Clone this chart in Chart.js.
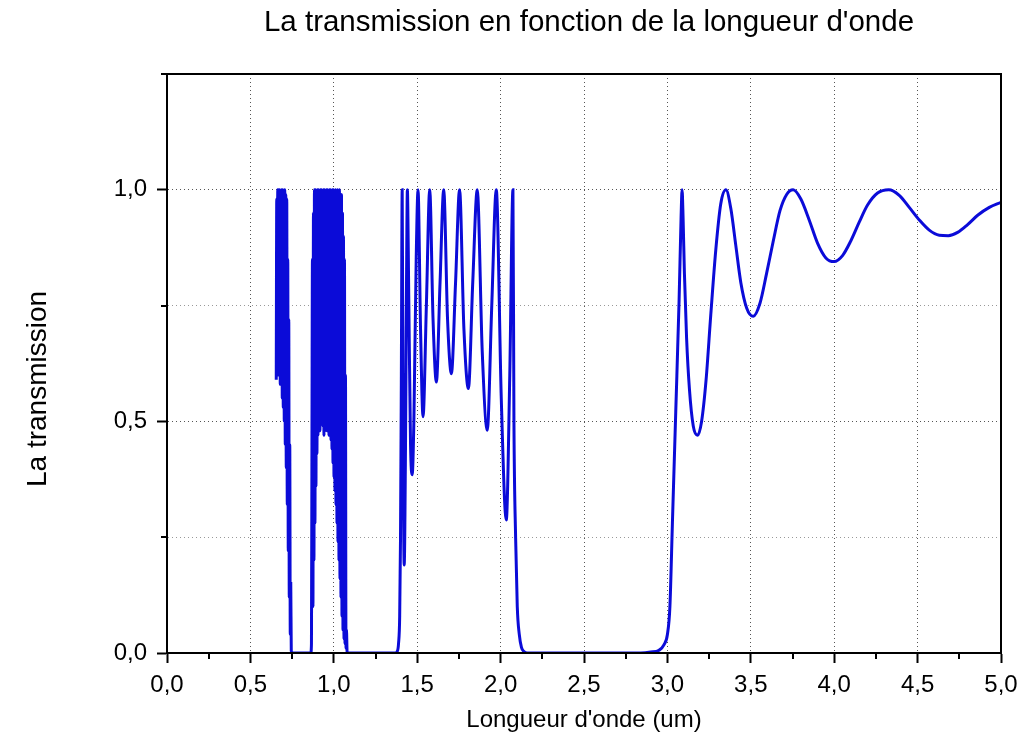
<!DOCTYPE html>
<html>
<head>
<meta charset="utf-8">
<title>La transmission en fonction de la longueur d'onde</title>
<script src="https://cdn.jsdelivr.net/npm/chart.js@4/dist/chart.umd.min.js"></script>
<style>
  html, body { margin: 0; padding: 0; background: #fff; }
  #wrap { width: 1021px; height: 740px; }
</style>
</head>
<body>
<div id="wrap"><canvas id="chart" width="1021" height="740"></canvas></div>
<script>
const chartTitle = "La transmission en fonction de la longueur d'onde";
const xTitle = "Longueur d'onde (um)";
const yTitle = "La transmission";

// first band, very fast oscillations
const band1X = [0.655, 0.658, 0.661, 0.664, 0.667, 0.670, 0.673, 0.676, 0.679, 0.682,
  0.685, 0.688, 0.691, 0.694, 0.697, 0.700, 0.703, 0.706, 0.709, 0.712,
  0.715, 0.718, 0.721, 0.724, 0.727, 0.730, 0.733, 0.736, 0.739, 0.742,
  0.745, 0.750];
const band1Y = [0.59, 0.98, 0.62, 1.0, 0.60, 1.0, 0.62, 1.0, 0.58, 0.99,
  0.60, 1.0, 0.55, 1.0, 0.53, 0.99, 0.50, 1.0, 0.45, 0.99,
  0.40, 0.98, 0.32, 0.85, 0.22, 0.72, 0.12, 0.45, 0.04, 0.15,
  0.005, 0];

// second band
const band2X = [0.862, 0.866, 0.869, 0.872, 0.875, 0.878, 0.881, 0.884, 0.887, 0.890,
  0.893, 0.896, 0.899, 0.902, 0.905, 0.908, 0.911, 0.914, 0.917, 0.920,
  0.923, 0.926, 0.929, 0.932, 0.935, 0.938, 0.941, 0.944, 0.947, 0.950,
  0.953, 0.956, 0.959, 0.962, 0.965, 0.968, 0.971, 0.974, 0.977, 0.980,
  0.983, 0.986, 0.989, 0.992, 0.995, 0.998, 1.001, 1.004, 1.007, 1.010,
  1.013, 1.016, 1.019, 1.022, 1.025, 1.028, 1.031, 1.034, 1.037, 1.040,
  1.043, 1.046, 1.049, 1.052, 1.055, 1.058, 1.061, 1.064, 1.067, 1.070,
  1.073, 1.076, 1.080];
const band2Y = [0, 0.02, 0.45, 0.85, 0.10, 0.95, 0.20, 1.0, 0.28, 1.0,
  0.36, 0.99, 0.43, 1.0, 0.47, 1.0, 0.50, 0.99, 0.48, 1.0,
  0.52, 1.0, 0.50, 0.99, 0.49, 1.0, 0.47, 1.0, 0.48, 0.99,
  0.50, 1.0, 0.48, 1.0, 0.50, 0.99, 0.47, 1.0, 0.48, 1.0,
  0.46, 0.99, 0.44, 1.0, 0.41, 1.0, 0.38, 0.99, 0.35, 1.0,
  0.32, 0.99, 0.28, 1.0, 0.24, 0.98, 0.20, 1.0, 0.16, 0.97,
  0.12, 0.99, 0.08, 0.95, 0.05, 0.90, 0.03, 0.85, 0.02, 0.60,
  0.01, 0.05, 0];

// third band, resolved fringes
const band3X = [1.370, 1.380, 1.388, 1.395, 1.400, 1.405, 1.410, 1.416, 1.422, 1.430,
  1.436, 1.441, 1.450, 1.460, 1.470, 1.480, 1.494, 1.505, 1.520, 1.535,
  1.555, 1.575, 1.595, 1.615, 1.637, 1.659, 1.682, 1.705, 1.730, 1.754,
  1.780, 1.807, 1.833, 1.860, 1.890, 1.920, 1.947, 1.974, 2.004, 2.034,
  2.055, 2.074, 2.080, 2.090, 2.100, 2.112, 2.125, 2.140, 2.160];
const band3Y = [0, 0.003, 0.02, 0.08, 0.25, 0.60, 1.0, 0.45, 0.19, 0.45,
  0.80, 1.0, 0.75, 0.45, 0.385, 0.50, 0.85, 1.0, 0.70, 0.51,
  0.75, 1.0, 0.72, 0.585, 0.80, 1.0, 0.72, 0.603, 0.80, 1.0,
  0.70, 0.571, 0.80, 1.0, 0.65, 0.481, 0.75, 1.0, 0.55, 0.287,
  0.60, 1.0, 0.50, 0.25, 0.10, 0.04, 0.012, 0.003, 0];

// long wavelength side
const band4X = [2.840, 2.900, 2.950, 2.980, 3.000, 3.015, 3.030, 3.050, 3.070, 3.082,
  3.088, 3.094, 3.102, 3.115, 3.132, 3.155, 3.181, 3.205, 3.232, 3.260,
  3.290, 3.320, 3.351, 3.380, 3.410, 3.440, 3.475, 3.515, 3.555, 3.595,
  3.635, 3.675, 3.715, 3.754, 3.800, 3.850, 3.900, 3.950, 4.000, 4.050,
  4.100, 4.150, 4.200, 4.260, 4.327, 4.390, 4.450, 4.510, 4.570, 4.630,
  4.684, 4.740, 4.800, 4.860, 4.930, 5.000];
const band4Y = [0, 0.002, 0.006, 0.018, 0.04, 0.10, 0.28, 0.52, 0.76, 0.94,
  1.0, 0.94, 0.82, 0.68, 0.57, 0.49, 0.47, 0.50, 0.59, 0.73,
  0.87, 0.97, 1.0, 0.96, 0.88, 0.80, 0.745, 0.727, 0.755, 0.82,
  0.89, 0.955, 0.99, 1.0, 0.98, 0.935, 0.885, 0.853, 0.845, 0.858,
  0.89, 0.93, 0.967, 0.993, 1.0, 0.988, 0.962, 0.935, 0.913, 0.902,
  0.901, 0.908, 0.925, 0.945, 0.962, 0.973];

const minorX = [0.25, 0.75, 1.25, 1.75, 2.25, 2.75, 3.25, 3.75, 4.25, 4.75];
const minorY = [0.25, 0.75, 1.25];

const wavelength = [].concat(band1X, band2X, band3X, band4X);
const transmission = [].concat(band1Y, band2Y, band3Y, band4Y);
const points = wavelength.map((x, i) => ({ x: x, y: transmission[i] }));

const fontFamily = "'Liberation Sans', Arial, sans-serif";
Chart.defaults.font.family = fontFamily;
Chart.defaults.color = "#000";

const isMajor = (v) => Math.abs(v * 2 - Math.round(v * 2)) < 1e-9;
const fmt = (v) => Number(v).toFixed(1).replace(".", ",");

// box around the plot, short minor ticks, title and y title
const framePlugin = {
  id: "frame",
  afterDraw(chart) {
    const { ctx, chartArea: a, scales } = chart;
    ctx.save();
    ctx.strokeStyle = "#000";
    ctx.lineWidth = 2;
    ctx.strokeRect(a.left, a.top, a.right - a.left, a.bottom - a.top);

    ctx.beginPath();
    minorX.forEach((v) => {
      const px = Math.round(scales.x.getPixelForValue(v));
      ctx.moveTo(px, a.bottom);
      ctx.lineTo(px, a.bottom + 6);
    });
    minorY.forEach((v) => {
      const py = Math.round(scales.y.getPixelForValue(v));
      ctx.moveTo(a.left, py);
      ctx.lineTo(a.left - 6, py);
    });
    ctx.stroke();

    ctx.fillStyle = "#000";
    ctx.textAlign = "center";
    ctx.textBaseline = "middle";
    ctx.font = "29.5px " + fontFamily;
    ctx.fillText(chartTitle, 589, 23);

    ctx.translate(38, 389);
    ctx.rotate(-Math.PI / 2);
    ctx.font = "28px " + fontFamily;
    ctx.fillText(yTitle, 0, 0);
    ctx.restore();
  }
};

const ctx = document.getElementById("chart").getContext("2d");
const myChart = new Chart(ctx, {
  type: "line",
  data: {
    datasets: [
      {
        data: points,
        borderColor: "#0b0bd8",
        borderWidth: 3,
        pointRadius: 0,
        fill: false,
        cubicInterpolationMode: "monotone",
      },
    ],
  },
  options: {
    responsive: false,
    animation: false,
    layout: { padding: { top: 74, right: 20, left: 0, bottom: 0 } },
    plugins: {
      legend: { display: false },
      tooltip: { enabled: false },
      title: { display: false },
    },
    scales: {
      x: {
        type: "linear",
        min: 0,
        max: 5,
        afterFit: (s) => {
          s.height = 87;
          s.paddingLeft = 0;
          s.paddingRight = 0;
        },
        ticks: {
          stepSize: 0.25,
          autoSkip: false,
          maxRotation: 0,
          padding: 8,
          color: "#000",
          font: { size: 24 },
          callback: (v) => (isMajor(v) ? fmt(v) : ""),
        },
        grid: {
          color: (c) => (c.tick && isMajor(c.tick.value) ? "#555" : "rgba(0,0,0,0)"),
          lineWidth: 1,
          tickLength: 10,
          tickWidth: 2,
          tickColor: (c) => (c.tick && isMajor(c.tick.value) ? "#000" : "rgba(0,0,0,0)"),
        },
        border: { display: true, color: "#000", width: 2, dash: [1, 3] },
        title: {
          display: true,
          text: xTitle,
          color: "#000",
          font: { size: 24 },
          padding: { top: 0, bottom: 5 },
        },
      },
      y: {
        min: 0,
        max: 1.25,
        afterFit: (s) => { s.width = 167; },
        ticks: {
          stepSize: 0.25,
          autoSkip: false,
          padding: 10,
          color: "#000",
          font: { size: 24 },
          callback: (v) => (isMajor(v) ? fmt(v) : ""),
        },
        grid: {
          color: (c) => (c.tick && isMajor(c.tick.value) ? "#555" : "#999"),
          lineWidth: 1,
          tickLength: 10,
          tickWidth: 2,
          tickColor: (c) => (c.tick && isMajor(c.tick.value) ? "#000" : "rgba(0,0,0,0)"),
        },
        border: { display: true, color: "#000", width: 2, dash: [1, 3] },
      },
    },
  },
  plugins: [framePlugin],
});
</script>
</body>
</html>
